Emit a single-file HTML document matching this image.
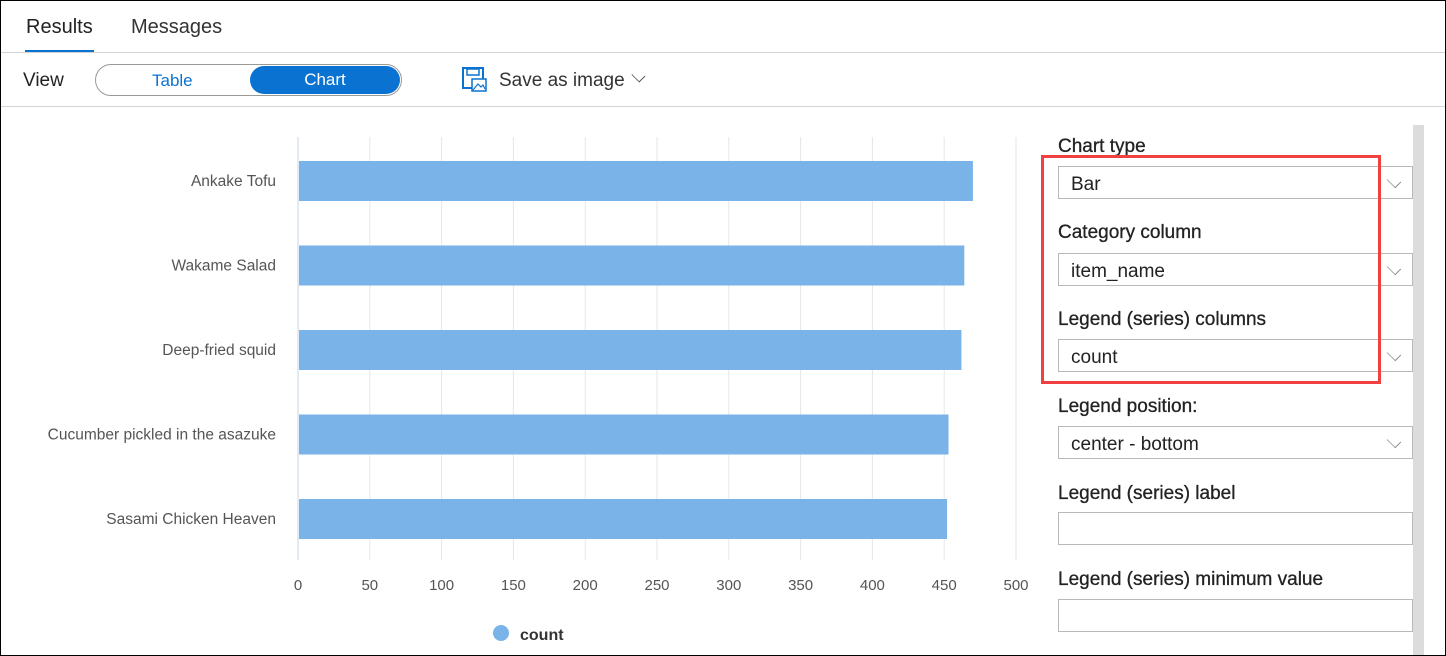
<!DOCTYPE html>
<html><head><meta charset="utf-8"><style>
*{box-sizing:border-box;margin:0;padding:0}
body{width:1446px;height:656px;overflow:hidden;background:#fff;font-family:"Liberation Sans",sans-serif;position:relative;color:#222}
.frame{position:absolute;left:0;top:0;width:1446px;height:656px;border:1px solid #000}
.abs{position:absolute}
.lbl{font-size:19px;color:#222;position:absolute;-webkit-text-stroke:0.3px #222}
.dd{position:absolute;left:1058px;width:355px;height:33px;border:1px solid #b9b9b9;font-size:19px;padding:7px 0 0 12px;color:#222}
.dd .chev{position:absolute;right:12px;top:8px;width:12px;height:12px;border-right:1px solid #888;border-bottom:1px solid #888;transform:rotate(45deg) scale(1,0.7)}
</style></head><body>
<div class="frame"></div>
<div class="abs" style="left:26px;top:16px;font-size:20px;color:#222">Results</div>
<div class="abs" style="left:25px;top:50px;width:69px;height:3px;background:#0a73d1"></div>
<div class="abs" style="left:131px;top:16px;font-size:20px;color:#333">Messages</div>
<div class="abs" style="left:1px;top:52px;width:1444px;height:1px;background:#d4d4d4"></div>
<div class="abs" style="left:23px;top:70px;font-size:19px;color:#222">View</div>
<div class="abs" style="left:95px;top:64px;width:307px;height:32px;border:1px solid #999;border-radius:16px"></div>
<div class="abs" style="left:152px;top:71px;font-size:17px;color:#0a73d1">Table</div>
<div class="abs" style="left:250px;top:66px;width:150px;height:28px;background:#0a73d1;border-radius:14px;color:#fff;font-size:17px;text-align:center;line-height:28px">Chart</div>
<svg class="abs" style="left:462px;top:67px" width="26" height="26" viewBox="0 0 26 26"><rect x="1" y="1" width="20" height="20" fill="none" stroke="#0a73d1" stroke-width="2"/><rect x="5" y="2" width="12" height="6" fill="none" stroke="#0a73d1" stroke-width="1.5"/><rect x="10" y="12" width="14" height="12" fill="#fff" stroke="#0a73d1" stroke-width="1.5"/><path d="M11 23 L16 17 L19 20 L21 18 L23 22" fill="none" stroke="#0a73d1" stroke-width="1.2"/></svg>
<div class="abs" style="left:499px;top:70px;font-size:19px;color:#333">Save as image</div>
<div class="abs" style="left:633px;top:70px;width:11px;height:11px;border-right:1.5px solid #555;border-bottom:1.5px solid #555;transform:rotate(45deg) scale(1,0.8)"></div>
<div class="abs" style="left:1px;top:106px;width:1444px;height:1px;background:#d4d4d4"></div>

<svg class="abs" id="chart" style="left:0;top:110px" width="1040" height="546"></svg>

<div class="lbl" style="left:1058px;top:136px">Chart type</div>
<div class="dd" style="top:166px">Bar<span class="chev"></span></div>
<div class="lbl" style="left:1058px;top:222px">Category column</div>
<div class="dd" style="top:253px">item_name<span class="chev"></span></div>
<div class="lbl" style="left:1058px;top:309px">Legend (series) columns</div>
<div class="dd" style="top:339px">count<span class="chev"></span></div>
<div class="lbl" style="left:1058px;top:396px">Legend position:</div>
<div class="dd" style="top:426px">center - bottom<span class="chev"></span></div>
<div class="lbl" style="left:1058px;top:483px">Legend (series) label</div>
<div class="dd" style="top:512px"></div>
<div class="lbl" style="left:1058px;top:569px">Legend (series) minimum value</div>
<div class="dd" style="top:599px"></div>
<div class="abs" style="left:1041px;top:155px;width:340px;height:229px;border:3px solid #f04040"></div>
<div class="abs" style="left:1413px;top:125px;width:11px;height:530px;background:#dcdcdc"></div>

<script>
const categories=["Ankake Tofu","Wakame Salad","Deep-fried squid","Cucumber pickled in the asazuke","Sasami Chicken Heaven"];
const counts=[470,464,462,453,452];
const ticks=[0,50,100,150,200,250,300,350,400,450,500];
const svg=document.getElementById('chart');
const NS='http://www.w3.org/2000/svg';
const x0=298,x1=1016,yTop=27,yBot=450,band=84.5,first=30;
const xs=v=>x0+(v-ticks[0])/(ticks[ticks.length-1]-ticks[0])*(x1-x0);
function mk(t,a){const e=document.createElementNS(NS,t);for(const k in a)e.setAttribute(k,a[k]);svg.appendChild(e);return e;}
ticks.forEach(t=>{
  const g=mk('line',{x1:xs(t),x2:xs(t),y1:yTop,y2:yBot,stroke:t===0?'#c8d4e8':'#e6e6e6','stroke-width':1});
  
  
  const l=mk('text',{x:xs(t),y:480,'text-anchor':'middle','font-size':15,fill:'#555','font-family':'Liberation Sans, sans-serif'});
  l.textContent=t;
  
  
});
categories.forEach((c,i)=>{
  const top=first+i*band+21;
  const b=mk('rect',{x:x0+1,y:top,width:xs(counts[i])-x0-1,height:40,fill:'#7ab3e8'});
  
  
  const t=mk('text',{x:276,y:top+25,'text-anchor':'end','font-size':15.5,fill:'#555','font-family':'Liberation Sans, sans-serif'});
  t.textContent=c;
  
  
});
const d=mk('circle',{cx:501,cy:523,r:8,fill:'#7ab3e8'});


const lt=mk('text',{x:520,y:530,'font-size':16,'font-weight':'bold',fill:'#333','font-family':'Liberation Sans, sans-serif'});
lt.textContent='count';


</script>
</body></html>
